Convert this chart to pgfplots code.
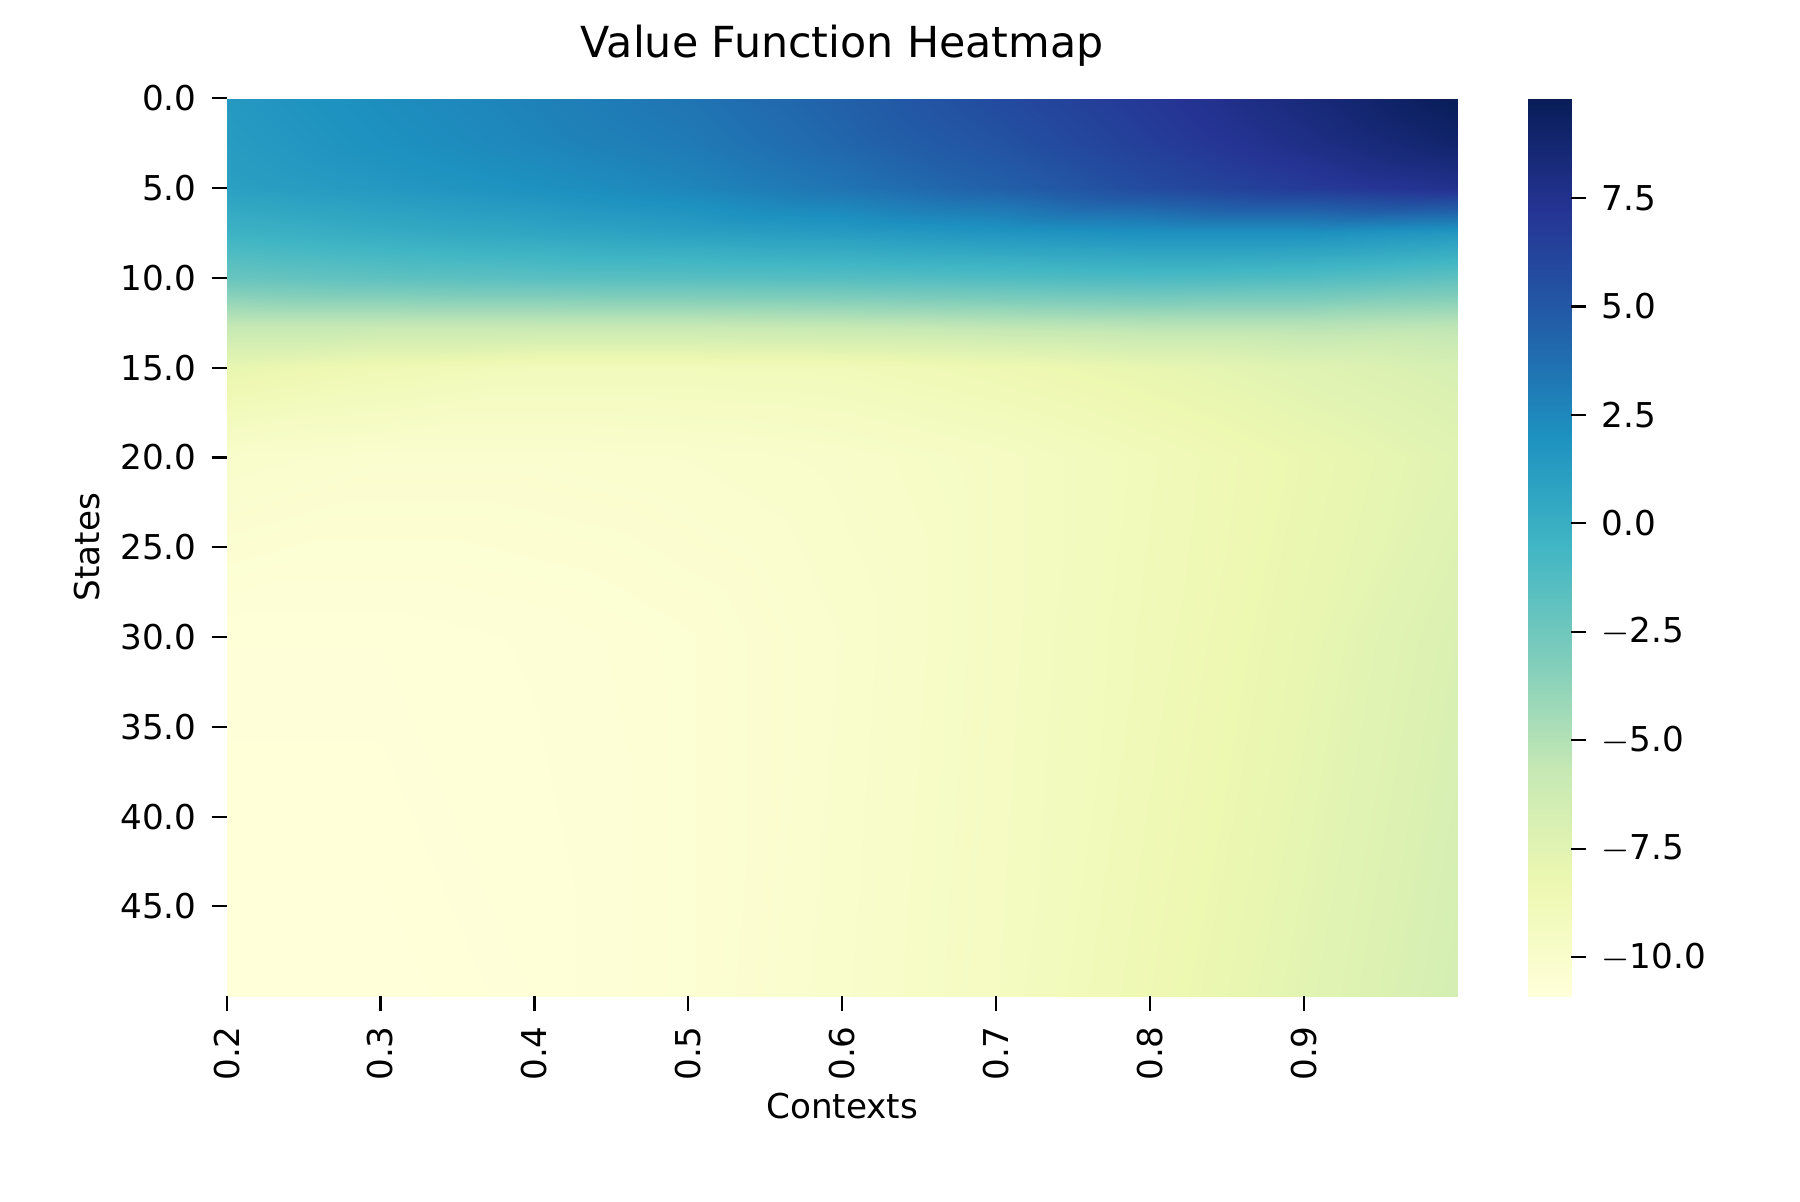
\documentclass[border=0pt]{standalone}
\usepackage{pgfplots}
\pgfplotsset{compat=1.18}
\usepackage{fontspec}
\setmainfont{DejaVu Sans}
\pgfplotsset{colormap={ylgnbu}{rgb255=(255,255,217) rgb255=(237,248,177) rgb255=(199,233,180) rgb255=(127,205,187) rgb255=(65,182,196) rgb255=(29,145,192) rgb255=(34,94,168) rgb255=(37,52,148) rgb255=(8,29,88)}}
\begin{document}
\begin{tikzpicture}
\path[use as bounding box] (-53pt,-48pt) rectangle (368pt,233pt);
\begin{axis}[
 at={(0,0)}, anchor=south west,
 width=288pt, height=210pt, scale only axis,
 view={0}{90},
 xmin=0.2, xmax=1.0, ymin=0, ymax=50, y dir=reverse,
 colormap name=ylgnbu,
 point meta min=-10.9, point meta max=9.8,
 font=\fontsize{8}{9.5}\selectfont,
 /pgf/number format/assume math mode=true,
 axis line style={draw=none},
 tick align=outside, tick style={black, line width=0.5pt, major tick length=3.5pt},
 xtick={0.2,0.3,...,0.9}, xticklabels={0.2,0.3,0.4,0.5,0.6,0.7,0.8,0.9},
 xticklabel style={rotate=90, anchor=east},
 ytick={0,5,...,45}, yticklabels={0.0,5.0,10.0,15.0,20.0,25.0,30.0,35.0,40.0,45.0},
 xtick pos=bottom, ytick pos=left,
 xlabel={Contexts}, ylabel={States},
 xlabel style={yshift=4pt}, ylabel style={yshift=-2pt},
 title={Value Function Heatmap}, title style={font=\fontsize{10}{12}\selectfont, yshift=-2pt},
 colorbar,
 colorbar style={width=10pt, xshift=8pt, ytick={-10,-7.5,...,7.5},
   yticklabels={$-$10.0,$-$7.5,$-$5.0,$-$2.5,0.0,2.5,5.0,7.5},
   ytick pos=right, tick align=outside,
   tick style={black, line width=0.5pt, major tick length=3.5pt},
   axis line style={draw=none}, font=\fontsize{8}{9.5}\selectfont},
]
\addplot3[surf, shader=interp, mesh/cols=9, point meta=\thisrow{v}] table[x=x,y=y,z=v] {
x y v
0.2 0 1.5
0.3 0 2.2
0.4 0 2.8
0.5 0 3.5
0.6 0 4.5
0.7 0 5.8
0.8 0 7.0
0.9 0 8.3
1.0 0 9.8

0.2 2.5 1.3
0.3 2.5 2.0
0.4 2.5 2.6
0.5 2.5 3.2
0.6 2.5 4.2
0.7 2.5 5.3
0.8 2.5 6.6
0.9 2.5 7.8
1.0 2.5 9.0

0.2 5 1.0
0.3 5 1.5
0.4 5 2.0
0.5 5 2.6
0.6 5 3.5
0.7 5 4.5
0.8 5 5.8
0.9 5 6.8
1.0 5 7.5

0.2 7.5 -0.3
0.3 7.5 0.2
0.4 7.5 0.6
0.5 7.5 1.0
0.6 7.5 1.3
0.7 7.5 1.7
0.8 7.5 2.0
0.9 7.5 2.0
1.0 7.5 1.5

0.2 10 -2.2
0.3 10 -1.8
0.4 10 -1.6
0.5 10 -1.5
0.6 10 -1.4
0.7 10 -1.2
0.8 10 -1.0
0.9 10 -1.2
1.0 10 -1.8

0.2 12.5 -5.5
0.3 12.5 -5.5
0.4 12.5 -5.5
0.5 12.5 -5.5
0.6 12.5 -5.4
0.7 12.5 -5.2
0.8 12.5 -5.0
0.9 12.5 -5.0
1.0 12.5 -5.2

0.2 15 -8.0
0.3 15 -8.6
0.4 15 -9.0
0.5 15 -9.0
0.6 15 -8.9
0.7 15 -8.5
0.8 15 -8.0
0.9 15 -7.4
1.0 15 -6.8

0.2 20 -10.0
0.3 20 -10.2
0.4 20 -10.2
0.5 20 -10.1
0.6 20 -9.9
0.7 20 -9.5
0.8 20 -8.9
0.9 20 -8.2
1.0 20 -7.5

0.2 30 -10.8
0.3 30 -10.8
0.4 30 -10.7
0.5 30 -10.5
0.6 30 -10.1
0.7 30 -9.5
0.8 30 -8.8
0.9 30 -8.0
1.0 30 -7.0

0.2 50 -10.9
0.3 50 -10.9
0.4 50 -10.8
0.5 50 -10.5
0.6 50 -10.0
0.7 50 -9.4
0.8 50 -8.5
0.9 50 -7.6
1.0 50 -6.6
};
\end{axis}
\end{tikzpicture}
\end{document}
